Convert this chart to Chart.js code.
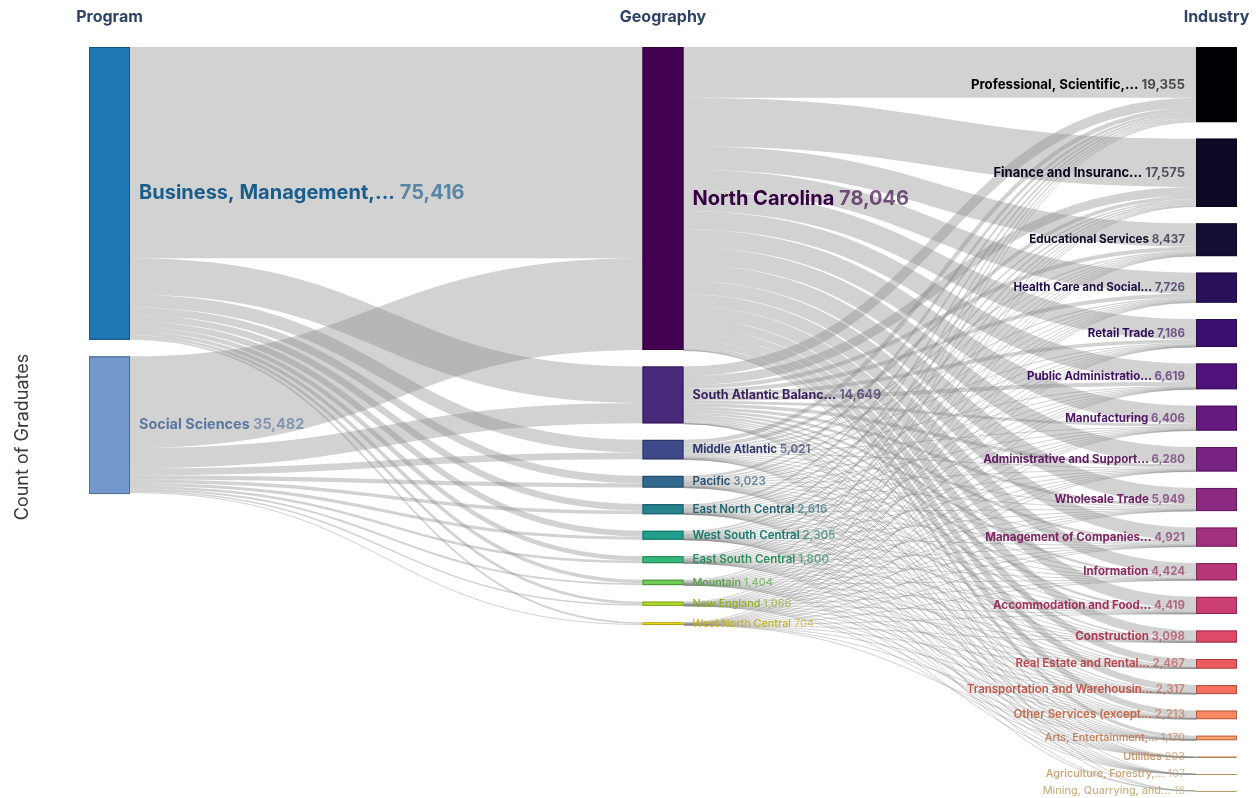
<!DOCTYPE html>
<html>
<head>
<meta charset="utf-8">
<script src="https://cdn.jsdelivr.net/npm/chart.js@4.4.1/dist/chart.umd.min.js"></script>
<style>
  html, body { margin: 0; padding: 0; background: #fff; }
  #wrap { width: 1260px; height: 798px; position: relative; }
</style>
</head>
<body>
<div id="wrap"><canvas id="sankey"></canvas></div>
<script>
// column headers
const columnTitles = ['Program', 'Geography', 'Industry'];
const axisTitle = 'Count of Graduates';

// nodes
const programs = ['Business, Management,...', 'Social Sciences'];
const programTotals = [75416, 35482];

const geographies = ['North Carolina', 'South Atlantic Balanc...', 'Middle Atlantic', 'Pacific',
  'East North Central', 'West South Central', 'East South Central', 'Mountain', 'New England',
  'West North Central'];
const geoTotals = [78046, 14649, 5021, 3023, 2616, 2305, 1800, 1404, 1066, 704];

const industries = ['Professional, Scientific,...', 'Finance and Insuranc...', 'Educational Services',
  'Health Care and Social...', 'Retail Trade', 'Public Administratio...', 'Manufacturing',
  'Administrative and Support...', 'Wholesale Trade', 'Management of Companies...', 'Information',
  'Accommodation and Food...', 'Construction', 'Real Estate and Rental...',
  'Transportation and Warehousin...', 'Other Services (except...', 'Arts, Entertainment,...',
  'Utilities', 'Agriculture, Forestry,...', 'Mining, Quarrying, and...'];
const industryTotals = [19355, 17575, 8437, 7726, 7186, 6619, 6406, 6280, 5949, 4921, 4424, 4419,
  3098, 2467, 2317, 2213, 1170, 203, 107, 18];

// flows program -> geography (same order as geographies)
const businessToGeo = [54426, 9400, 3250, 1950, 1700, 1500, 1150, 900, 690, 450];
const socialToGeo   = [23620, 5249, 1771, 1073, 916, 805, 650, 504, 376, 254];

// flows geography -> industry (same order as industries)
const ncToInd  = [13100, 12440, 6052, 5388, 5250, 4700, 4650, 4450, 4250, 3400, 3050, 3200, 2250, 1750, 1650, 1580, 800, 150, 80, 12];
const saToInd  = [2500, 2300, 1000, 1015, 930, 1050, 750, 880, 780, 700, 620, 600, 430, 360, 320, 300, 160, 25, 12, 3];
const maToInd  = [1070, 870, 330, 320, 260, 220, 250, 280, 260, 250, 250, 170, 110, 100, 100, 100, 70, 8, 4, 0];
const pacToInd = [680, 375, 200, 200, 180, 160, 150, 170, 150, 150, 170, 120, 75, 70, 65, 60, 45, 5, 3, 0];
const encToInd = [480, 400, 200, 190, 150, 130, 200, 150, 140, 130, 100, 100, 65, 50, 50, 50, 30, 5, 3, 1];
const wscToInd = [440, 370, 166, 166, 140, 120, 140, 130, 130, 110, 80, 80, 60, 50, 50, 45, 20, 4, 2, 2];
const escToInd = [340, 280, 156, 152, 110, 90, 120, 90, 100, 70, 60, 60, 45, 35, 35, 35, 17, 3, 2, 0];
const mtnToInd = [330, 210, 128, 113, 80, 80, 60, 70, 60, 50, 50, 45, 35, 28, 25, 22, 15, 2, 1, 0];
const neToInd  = [250, 200, 120, 110, 50, 40, 50, 35, 45, 40, 28, 28, 18, 15, 14, 13, 9, 1, 0, 0];
const wncToInd = [165, 130, 85, 72, 36, 29, 36, 25, 34, 21, 16, 16, 10, 9, 8, 8, 4, 0, 0, 0];

// palettes
const programColors = ['#1f77b4', '#7399cc'];
const geoColors = ['#440154', '#482878', '#3e4989', '#31688e', '#26828e', '#1f9e89', '#35b779',
  '#6ece58', '#b5de2b', '#fde725'];
const industryColors = ['#000004', '#0b0924', '#140e36', '#29115a', '#3b0f70', '#50127b', '#641a80',
  '#782281', '#8c2981', '#a1307e', '#b73779', '#cb3e72', '#de4968', '#ee5b5e', '#f7705c', '#fc8961',
  '#fe9f6d', '#feb77e', '#fecf92', '#fde7a9'];

const GAP = 4250;    // space between nodes, in data units
const NODE_W = 41;   // px
const FONT = 'Inter, "Open Sans", sans-serif';

// build layout in data units
function makeColumn(names, totals, colors) {
  let acc = 0;
  return names.map((name, i) => {
    const n = { name, value: totals[i], color: colors[i], y0: acc, y1: acc + totals[i], outOff: 0, inOff: 0 };
    acc += totals[i] + GAP;
    return n;
  });
}
const columns = [
  makeColumn(programs, programTotals, programColors),
  makeColumn(geographies, geoTotals, geoColors),
  makeColumn(industries, industryTotals, industryColors)
];
const flowTables = [
  [businessToGeo, socialToGeo],
  [ncToInd, saToInd, maToInd, pacToInd, encToInd, wscToInd, escToInd, mtnToInd, neToInd, wncToInd]
];

const links = [];
flowTables.forEach((rows, c) => {
  const byKey = {};
  rows.forEach((row, s) => row.forEach((v, t) => {
    if (!v) return;
    const src = columns[c][s];
    const l = { c, s, t, v, sy: src.y0 + src.outOff };
    src.outOff += v;
    byKey[s + '_' + t] = l;
    links.push(l);
  }));
  // incoming side, ordered by source
  columns[c + 1].forEach((tgt, t) => {
    rows.forEach((row, s) => {
      const l = byKey[s + '_' + t];
      if (!l) return;
      l.ty = tgt.y0 + tgt.inOff;
      tgt.inOff += l.v;
    });
  });
});

const yMax = industryTotals.reduce((a, b) => a + b, 0) + (industries.length - 1) * GAP;

function shade(hex, k, a) {
  const n = parseInt(hex.slice(1), 16);
  const r = Math.round(((n >> 16) & 255) * k), g = Math.round(((n >> 8) & 255) * k), b = Math.round((n & 255) * k);
  return a === undefined ? `rgb(${r},${g},${b})` : `rgba(${r},${g},${b},${a})`;
}

function labelFont(h) {
  if (h < 6) return { size: 10.8, weight: '500' };
  if (h < 12) return { size: 11.5, weight: '600' };
  if (h > 200) return { size: 20, weight: '700' };
  return { size: Math.min(14.4, Math.max(11.5, 10.4 + h * 0.038)), weight: '700' };
}

const sankeyPlugin = {
  id: 'sankey',
  afterDatasetsDraw(chart) {
    const { ctx } = chart;
    const xs = chart.scales.x, ys = chart.scales.y;
    const py = v => ys.getPixelForValue(v);
    const cx = c => xs.getPixelForValue(c);

    // links
    ctx.save();
    ctx.strokeStyle = 'rgba(130,130,130,0.36)';
    links.forEach(l => {
      const x0 = cx(l.c) + NODE_W / 2, x1 = cx(l.c + 1) - NODE_W / 2;
      const y0 = py(l.sy + l.v / 2), y1 = py(l.ty + l.v / 2);
      const w = Math.abs(py(l.v) - py(0));
      const xm = (x0 + x1) / 2;
      ctx.lineWidth = Math.max(1, w);
      ctx.beginPath();
      ctx.moveTo(x0, y0);
      ctx.bezierCurveTo(xm, y0, xm, y1, x1, y1);
      ctx.stroke();
    });
    ctx.restore();

    // nodes
    columns.forEach((col, c) => {
      col.forEach(n => {
        const top = py(n.y0), h = Math.max(1, py(n.y1) - top);
        const left = cx(c) - NODE_W / 2;
        ctx.fillStyle = n.color;
        ctx.fillRect(left, top, NODE_W, h);
        ctx.strokeStyle = shade(n.color, 0.7);
        ctx.lineWidth = 1;
        ctx.strokeRect(left + 0.5, top + 0.5, NODE_W - 1, Math.max(0, h - 1));
      });
    });

    // labels
    ctx.save();
    ctx.textBaseline = 'middle';
    columns.forEach((col, c) => {
      const right = c < 2;
      col.forEach(n => {
        const top = py(n.y0), h = py(n.y1) - top;
        const f = labelFont(h);
        ctx.font = `${f.weight} ${f.size}px ${FONT}`;
        const y = top + h / 2;
        const val = n.value.toLocaleString('en-US');
        const nameW = ctx.measureText(n.name + ' ').width;
        const valW = ctx.measureText(val).width;
        const x = right ? cx(c) + NODE_W / 2 + 9 : cx(c) - NODE_W / 2 - 11 - nameW - valW;
        ctx.textAlign = 'left';
        ctx.fillStyle = shade(n.color, 0.78);
        ctx.fillText(n.name + ' ', x, y);
        ctx.fillStyle = shade(n.color, 0.78, 0.65);
        ctx.fillText(val, x + nameW, y);
      });
    });

    // column titles
    ctx.font = `700 16px ${FONT}`;
    ctx.fillStyle = '#2d4466';
    ctx.textAlign = 'center';
    columnTitles.forEach((t, c) => ctx.fillText(t, cx(c), 17));

    // axis title
    ctx.translate(23, 437);
    ctx.rotate(-Math.PI / 2);
    ctx.font = `400 18px ${FONT}`;
    ctx.fillStyle = '#3a3a3a';
    ctx.fillText(axisTitle, 0, 0);
    ctx.restore();
  }
};

new Chart(document.getElementById('sankey'), {
  type: 'scatter',
  data: { datasets: [] },
  options: {
    responsive: true,
    maintainAspectRatio: false,
    animation: false,
    layout: { padding: { left: 109.5, right: 43.5, top: 47, bottom: 7 } },
    plugins: { legend: { display: false }, tooltip: { enabled: false } },
    scales: {
      x: { type: 'linear', min: 0, max: columnTitles.length - 1, display: false },
      y: { type: 'linear', min: 0, max: yMax, reverse: true, display: false }
    }
  },
  plugins: [sankeyPlugin]
});
</script>
</body>
</html>
